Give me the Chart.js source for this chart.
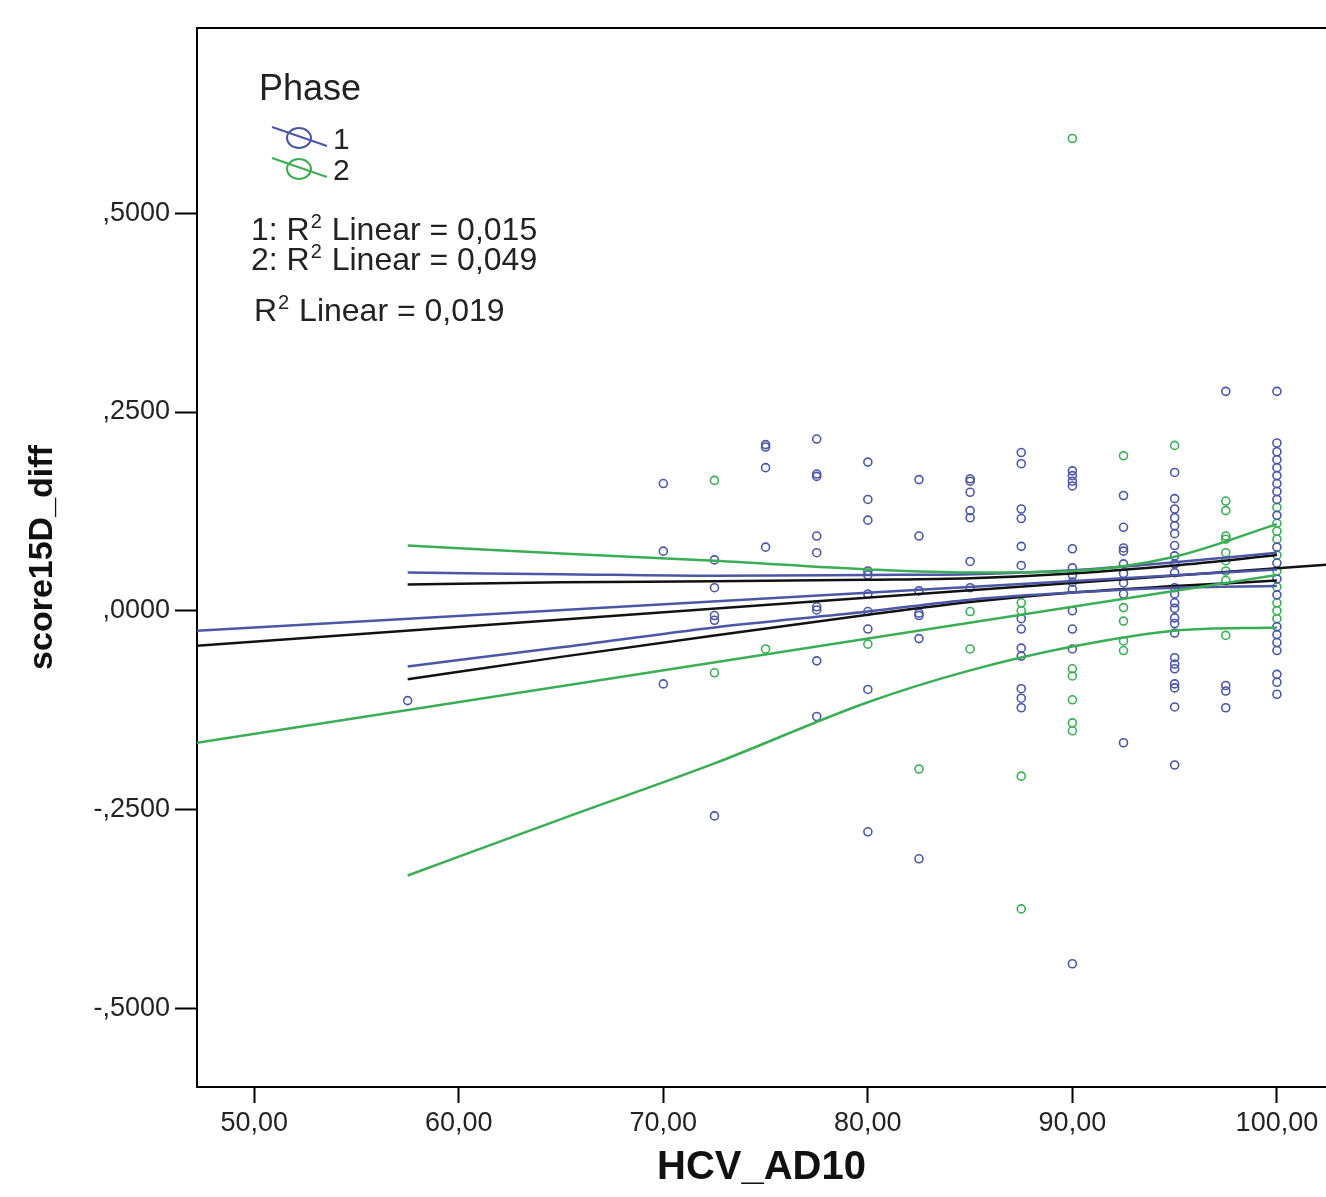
<!DOCTYPE html>
<html>
<head>
<meta charset="utf-8">
<script src="https://cdn.jsdelivr.net/npm/chart.js@4.4.1/dist/chart.umd.min.js"></script>
<style>
  html, body { margin: 0; padding: 0; background: #fff; }
  #wrap { width: 1326px; height: 1197px; }
</style>
</head>
<body>
<div id="wrap"><canvas id="scatterChart"></canvas></div>
<script>
const phase1Points = [
  [57.5, [-0.113]],
  [70, [0.160, 0.075, -0.092]],
  [72.5, [0.064, 0.029, -0.006, -0.012, -0.258]],
  [75, [0.209, 0.206, 0.180, 0.080]],
  [77.5, [0.216, 0.172, 0.169, 0.094, 0.073, 0.005, 0.001, -0.063, -0.133]],
  [80, [0.187, 0.140, 0.114, 0.050, 0.045, 0.021, -0.001, -0.023, -0.099, -0.278]],
  [82.5, [0.165, 0.094, 0.025, -0.003, -0.006, -0.035, -0.312]],
  [85, [0.166, 0.163, 0.149, 0.126, 0.117, 0.062, 0.029]],
  [87.5, [0.199, 0.185, 0.128, 0.116, 0.081, 0.057, -0.010, -0.023, -0.047, -0.057, -0.098, -0.110, -0.122]],
  [90, [0.176, 0.170, 0.163, 0.157, 0.078, 0.054, 0.045, 0.036, 0.027, 0.000, -0.023, -0.048, -0.444]],
  [92.5, [0.145, 0.105, 0.079, 0.075, 0.059, 0.047, 0.035, 0.021, -0.166]],
  [95, [0.174, 0.141, 0.128, 0.117, 0.107, 0.097, 0.082, 0.069, 0.059, 0.048, 0.029, 0.021, 0.010, 0.003, -0.009, -0.016, -0.028, -0.059, -0.067, -0.073, -0.092, -0.097, -0.121, -0.194]],
  [97.5, [0.276, -0.094, -0.101, -0.122]],
  [100, [0.276, 0.211, 0.200, 0.190, 0.180, 0.170, 0.160, 0.150, 0.140, 0.120, 0.080, 0.060, 0.040, 0.020, -0.020, -0.030, -0.040, -0.050, -0.080, -0.090, -0.105]]
];
const phase2Points = [
  [72.5, [0.164, -0.078]],
  [75, [-0.048]],
  [80, [-0.042]],
  [82.5, [-0.199]],
  [85, [-0.001, -0.048]],
  [87.5, [0.010, 0.000, -0.208, -0.375]],
  [90, [0.594, -0.073, -0.082, -0.112, -0.141, -0.151]],
  [92.5, [0.195, 0.004, -0.013, -0.038, -0.050]],
  [95, [0.208]],
  [97.5, [0.138, 0.126, 0.094, 0.090, 0.073, 0.063, 0.050, 0.038, -0.031]],
  [100, [0.130, 0.110, 0.100, 0.090, 0.070, 0.050, 0.030, 0.010, 0.000, -0.010]]
];

// fit lines (end points)
const fitX = [47.2, 100];
const fit1Y = [-0.025, 0.052];
const fit2Y = [-0.166, 0.045];
const totalFitX = [47.2, 102.4];
const totalFitY = [-0.044, 0.058];

// mean confidence bands
const bandX = [57.5, 65, 72.5, 80, 85, 90, 95, 100];
const band1Upper = [0.048, 0.046, 0.044, 0.045, 0.046, 0.051, 0.061, 0.073];
const band1Lower = [-0.070, -0.046, -0.021, -0.001, 0.014, 0.023, 0.029, 0.031];
const band2Upper = [0.082, 0.072, 0.063, 0.052, 0.048, 0.050, 0.068, 0.109];
const band2Lower = [-0.333, -0.262, -0.192, -0.115, -0.075, -0.045, -0.025, -0.021];
const totalUpper = [0.033, 0.036, 0.037, 0.039, 0.041, 0.047, 0.057, 0.070];
const totalLower = [-0.086, -0.058, -0.031, -0.005, 0.011, 0.023, 0.031, 0.038];

const xTicks = [50, 60, 70, 80, 90, 100];
const yTicks = [-0.5, -0.25, 0, 0.25, 0.5];

const BLUE = '#4b56a6';
const GREEN = '#3aad55';
const FONT = '"Liberation Sans", Arial, sans-serif';

const toXY = (cols) => cols.flatMap(([x, ys]) => ys.map(y => ({ x: x, y: y })));
const zipXY = (xs, ys) => xs.map((x, i) => ({ x: x, y: ys[i] }));

const lineSet = (data, color, smooth) => ({
  type: 'line',
  data: data,
  borderColor: color,
  borderWidth: 2.5,
  pointRadius: 0,
  fill: false,
  cubicInterpolationMode: smooth ? 'monotone' : 'default',
  tension: 0,
  order: 1
});

const pointSet = (data, color) => ({
  type: 'scatter',
  data: data,
  borderColor: color,
  backgroundColor: 'rgba(0,0,0,0)',
  pointStyle: 'circle',
  pointRadius: 4,
  borderWidth: 1.6,
  order: 2
});

// SPSS style legend + R2 texts, and the top frame line
const spssLegend = {
  id: 'spssLegend',
  afterDraw(chart) {
    const ctx = chart.ctx;
    const area = chart.chartArea;
    ctx.save();
    ctx.strokeStyle = '#000';
    ctx.lineWidth = 2;
    ctx.beginPath();
    ctx.moveTo(area.left, area.top);
    ctx.lineTo(area.right, area.top);
    ctx.stroke();

    ctx.fillStyle = '#222';
    ctx.textBaseline = 'alphabetic';
    ctx.textAlign = 'left';
    ctx.font = '36px ' + FONT;
    ctx.fillText('Phase', 259, 100);

    const marker = (color, cy, label) => {
      ctx.strokeStyle = color;
      ctx.lineWidth = 2;
      ctx.beginPath();
      ctx.moveTo(272, cy - 11);
      ctx.lineTo(327, cy + 8);
      ctx.stroke();
      ctx.beginPath();
      ctx.ellipse(299, cy, 12, 10, 0, 0, Math.PI * 2);
      ctx.stroke();
      ctx.fillStyle = '#222';
      ctx.font = '30px ' + FONT;
      ctx.fillText(label, 333, cy + 11);
    };
    marker(BLUE, 138, '1');
    marker(GREEN, 169, '2');

    const r2Line = (prefix, rest, x, y) => {
      ctx.font = '32px ' + FONT;
      ctx.fillText(prefix, x, y);
      let w = ctx.measureText(prefix).width;
      ctx.font = '20px ' + FONT;
      ctx.fillText('2', x + w + 1, y - 12);
      w += ctx.measureText('2').width + 2;
      ctx.font = '32px ' + FONT;
      ctx.fillText(rest, x + w, y);
    };
    r2Line('1: R', ' Linear = 0,015', 251, 240);
    r2Line('2: R', ' Linear = 0,049', 251, 270);
    r2Line('R', ' Linear = 0,019', 254, 321);
    ctx.restore();
  }
};

const config = {
  data: {
    datasets: [
      pointSet(toXY(phase1Points), BLUE),
      pointSet(toXY(phase2Points), GREEN),
      lineSet(zipXY(bandX, band2Upper), GREEN, true),
      lineSet(zipXY(bandX, band2Lower), GREEN, true),
      lineSet(zipXY(fitX, fit2Y), GREEN, false),
      lineSet(zipXY(bandX, band1Upper), BLUE, true),
      lineSet(zipXY(bandX, band1Lower), BLUE, true),
      lineSet(zipXY(fitX, fit1Y), BLUE, false),
      lineSet(zipXY(bandX, totalUpper), '#111', true),
      lineSet(zipXY(bandX, totalLower), '#111', true),
      lineSet(zipXY(totalFitX, totalFitY), '#111', false)
    ]
  },
  options: {
    responsive: true,
    maintainAspectRatio: false,
    animation: false,
    layout: { autoPadding: false, padding: { top: 28, right: 0, left: 0, bottom: 0 } },
    plugins: {
      legend: { display: false },
      tooltip: { enabled: false }
    },
    scales: {
      x: {
        type: 'linear',
        min: 47.2,
        max: 102.4,
        afterBuildTicks: (scale) => { scale.ticks = xTicks.map(v => ({ value: v })); },
        afterFit: (scale) => {
          scale.height = 110;
          scale.paddingLeft = 0;
          scale.paddingRight = 0;
        },
        ticks: {
          color: '#222',
          padding: 4,
          maxRotation: 0,
          font: { family: FONT, size: 27 },
          callback: (v) => v.toFixed(2).replace('.', ',')
        },
        grid: {
          drawOnChartArea: false,
          drawTicks: true,
          tickLength: 16,
          tickColor: '#000',
          tickWidth: 2
        },
        border: { display: true, color: '#000', width: 2 },
        title: {
          display: true,
          text: 'HCV_AD10',
          color: '#111',
          padding: { top: 0, bottom: 5 },
          font: { family: FONT, size: 40, weight: 'bold' }
        }
      },
      y: {
        type: 'linear',
        min: -0.599,
        max: 0.733,
        afterBuildTicks: (scale) => { scale.ticks = yTicks.map(v => ({ value: v })); },
        afterFit: (scale) => { scale.width = 197; },
        ticks: {
          color: '#222',
          padding: 5,
          font: { family: FONT, size: 27 },
          callback: (v) => v.toFixed(4).replace('0.', ',')
        },
        grid: {
          drawOnChartArea: false,
          drawTicks: true,
          tickLength: 22,
          tickColor: '#000',
          tickWidth: 2
        },
        border: { display: true, color: '#000', width: 2 },
        title: {
          display: true,
          text: 'score15D_diff',
          color: '#111',
          padding: { top: 22, bottom: 0 },
          font: { family: FONT, size: 34, weight: 'bold' }
        }
      }
    }
  },
  plugins: [spssLegend]
};

document.addEventListener('DOMContentLoaded', function () {
  const ctx = document.getElementById('scatterChart').getContext('2d');
  new Chart(ctx, config);
});
</script>
</body>
</html>
